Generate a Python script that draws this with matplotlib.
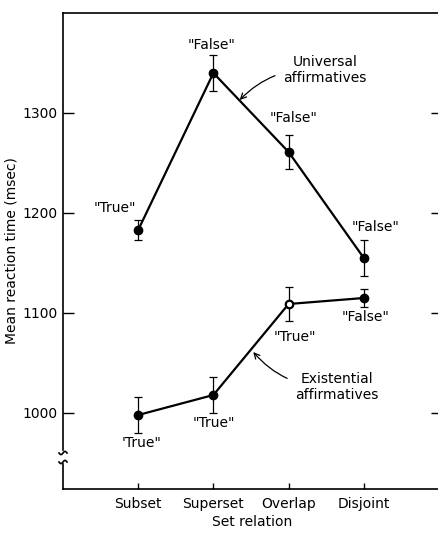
import numpy as np
import matplotlib.pyplot as plt
import matplotlib.transforms as mtransforms

# data
relations = ["Subset", "Superset", "Overlap", "Disjoint"]
univ_mean = [1183, 1340, 1261, 1155]
univ_err = [10, 18, 17, 18]
univ_labels = ['"True"', '"False"', '"False"', '"False"']
exist_mean = [998, 1018, 1109, 1115]
exist_err = [18, 18, 17, 9]
exist_labels = ["'True\"", '"True"', '"True"', '"False"']
yticks = [1000, 1100, 1200, 1300]

plt.rcParams.update({
    'font.family': 'DejaVu Sans',
    'font.size': 10,
})

W, H = 439, 538
fig = plt.figure(figsize=(W / 100, H / 100), dpi=100)
ax = fig.add_axes([63 / W, (H - 489) / H, (442 - 63) / W, (489 - 13) / H])

x = np.arange(1, len(relations) + 1)

ax.errorbar(x, univ_mean, yerr=univ_err, color='black', lw=1.6,
            marker='o', ms=6, ecolor='black', elinewidth=0.9, capsize=3,
            capthick=0.9)
ax.errorbar(x, exist_mean, yerr=exist_err, color='black', lw=1.6,
            marker='o', ms=6, ecolor='black', elinewidth=0.9, capsize=3,
            capthick=0.9)
# the overlap point of the existential line is drawn open
ax.plot(x[2], exist_mean[2], 'o', ms=5, mfc='white', mec='black', mew=1.2,
        zorder=5)

ax.set_xlim(0, 5.04)
ax.set_ylim(924, 1400)
ax.set_xticks(x)
ax.set_xticklabels(relations, fontsize=10)
ax.set_yticks(yticks)
ax.set_yticklabels([str(v) for v in yticks], fontsize=10)
ax.tick_params(axis='y', direction='in', length=8, width=1, right=True,
               pad=4)
ax.tick_params(axis='x', direction='in', length=4, width=1, pad=6)

ax.spines['left'].set_visible(False)
ax.spines['right'].set_visible(False)
for s in ['top', 'bottom']:
    ax.spines[s].set_linewidth(1.2)

# left axis drawn with a break (1 data unit is about 1 px here)
trans = mtransforms.blended_transform_factory(ax.transAxes, ax.transData)
ax.plot([0, 0], [963, 1400], color='black', lw=1.2, transform=trans,
        clip_on=False)
ax.plot([0, 0], [924, 949], color='black', lw=1.2, transform=trans,
        clip_on=False)
px = np.linspace(-4, 4, 25)
for yc in (960, 951):
    ax.plot(px / 379, yc + 1.6 * np.sin(np.pi * px / 4), color='black',
            lw=1.2, transform=trans, clip_on=False)

# point labels
univ_pos = [(0.69, 1205), (1.97, 1368), (3.06, 1295), (4.15, 1186)]
exist_pos = [(1.04, 970), (2.01, 990), (3.09, 1076), (4.02, 1096)]
for (tx, ty), lab in zip(univ_pos, univ_labels):
    ax.text(tx, ty, lab, ha='center', va='center', fontsize=10)
for (tx, ty), lab in zip(exist_pos, exist_labels):
    ax.text(tx, ty, lab, ha='center', va='center', fontsize=10)

ax.annotate('Universal\naffirmatives', xy=(2.35, 1313), xytext=(3.48, 1343),
            ha='center', va='center', fontsize=10, linespacing=1.1,
            arrowprops=dict(arrowstyle='->', color='black', lw=0.9,
                            connectionstyle='arc3,rad=0.25',
                            shrinkA=4, shrinkB=0))
ax.annotate('Existential\naffirmatives', xy=(2.53, 1061),
            xytext=(3.64, 1026), ha='center', va='center', fontsize=10,
            linespacing=1.1,
            arrowprops=dict(arrowstyle='->', color='black', lw=0.9,
                            connectionstyle='arc3,rad=-0.25',
                            shrinkA=4, shrinkB=0))

ax.set_xlabel('Set relation', fontsize=10, labelpad=3)
ax.set_ylabel('Mean reaction time (msec)', fontsize=10, labelpad=3)

fig.savefig('out.png', dpi=100)
